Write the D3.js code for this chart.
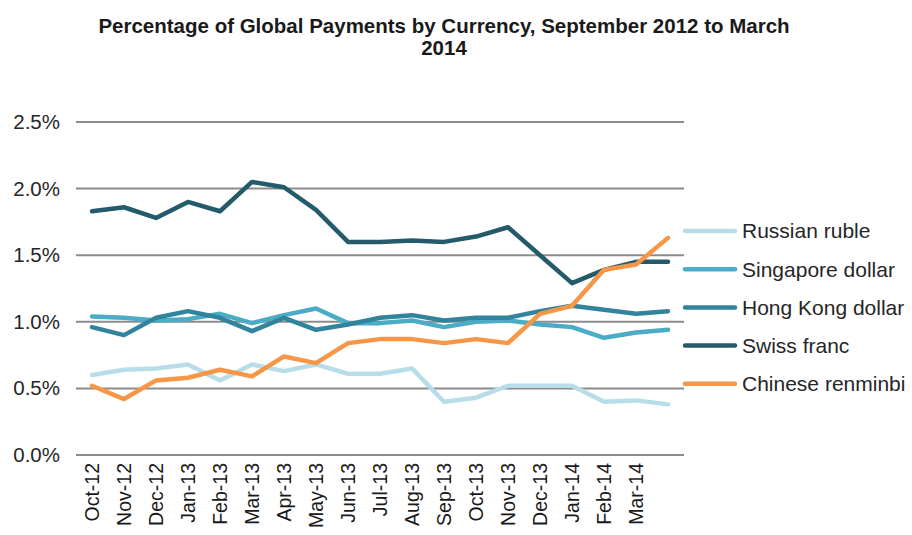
<!DOCTYPE html>
<html>
<head>
<meta charset="utf-8">
<script src="https://cdn.jsdelivr.net/npm/d3@7"></script>
<style>
body{margin:0;background:#fff;font-family:"Liberation Sans",Arial,sans-serif;}
.grid line{stroke:#8c8c8c;stroke-width:2;}
</style>
</head>
<body>
<script>
var months = ["Oct-12","Nov-12","Dec-12","Jan-13","Feb-13","Mar-13","Apr-13","May-13","Jun-13","Jul-13",
              "Aug-13","Sep-13","Oct-13","Nov-13","Dec-13","Jan-14","Feb-14","Mar-14",""];
var yTicks = [0,0.5,1.0,1.5,2.0,2.5];

var russianRuble = [0.60,0.64,0.65,0.68,0.56,0.68,0.63,0.68,0.61,0.61,0.65,0.40,0.43,0.52,0.52,0.52,0.40,0.41,0.38];
var singaporeDollar = [1.04,1.03,1.01,1.02,1.06,0.99,1.05,1.10,0.99,0.99,1.01,0.96,1.00,1.01,0.98,0.96,0.88,0.92,0.94];
var hongKongDollar = [0.96,0.90,1.03,1.08,1.03,0.93,1.03,0.94,0.98,1.03,1.05,1.01,1.03,1.03,1.08,1.12,1.09,1.06,1.08];
var swissFranc = [1.83,1.86,1.78,1.90,1.83,2.05,2.01,1.84,1.60,1.60,1.61,1.60,1.64,1.71,1.50,1.29,1.39,1.45,1.45];
var chineseRenminbi = [0.52,0.42,0.56,0.58,0.64,0.59,0.74,0.69,0.84,0.87,0.87,0.84,0.87,0.84,1.06,1.12,1.39,1.43,1.63];

var seriesNames = ["Russian ruble","Singapore dollar","Hong Kong dollar","Swiss franc","Chinese renminbi"];
var seriesColors = ["#b7dee8","#4bacc6","#31849b","#235b6a","#f79646"];
var seriesValues = [russianRuble,singaporeDollar,hongKongDollar,swissFranc,chineseRenminbi];

var width = 912, height = 535;
var svg = d3.select("body").append("svg").attr("width",width).attr("height",height);

var x = d3.scaleBand().domain(d3.range(months.length)).range([76,684]);
var y = d3.scaleLinear().domain([0,2.5]).range([455,122]);

// title
var title = svg.append("text")
    .attr("text-anchor","middle")
    .attr("font-size","20.5px")
    .attr("font-weight","bold")
    .attr("fill","#1a1a1a");
title.append("tspan").attr("x",444).attr("y",33).text("Percentage of Global Payments by Currency, September 2012 to March");
title.append("tspan").attr("x",444).attr("y",55).text("2014");

// gridlines
svg.append("g").attr("class","grid")
    .selectAll("line")
    .data(yTicks)
    .enter().append("line")
        .attr("x1",76).attr("x2",684)
        .attr("y1",function(d){return y(d);})
        .attr("y2",function(d){return y(d);});

// y labels
var yAxis = d3.axisLeft(y).tickValues(yTicks).tickSize(0).tickPadding(0)
    .tickFormat(function(d){return d.toFixed(1)+"%";});
var yg = svg.append("g").attr("transform","translate(60,0)").call(yAxis);
yg.select(".domain").remove();
yg.selectAll("text").attr("font-size","20.5px").attr("font-family","Liberation Sans, Arial, sans-serif").attr("fill","#262626");

// x labels
var xAxis = d3.axisBottom(x).tickSize(0).tickPadding(0).tickFormat(function(i){return months[i];});
var xg = svg.append("g").attr("transform","translate(0,463)").call(xAxis);
xg.select(".domain").remove();
xg.selectAll("text")
    .attr("font-size","19.5px")
    .attr("font-family","Liberation Sans, Arial, sans-serif")
    .attr("fill","#1a1a1a")
    .attr("text-anchor","end")
    .attr("transform","rotate(-90)")
    .attr("x",0).attr("y",0).attr("dy","0.35em");

// lines
var line = d3.line()
    .x(function(d,i){return x(i)+x.bandwidth()/2;})
    .y(function(d){return y(d);});

svg.selectAll("path.series")
    .data(seriesValues)
    .enter().append("path")
        .attr("class","series")
        .attr("d",line)
        .attr("fill","none")
        .attr("stroke",function(d,i){return seriesColors[i];})
        .attr("stroke-width",4.5)
        .attr("stroke-linejoin","round")
        .attr("stroke-linecap","round");

// legend
var legend = svg.selectAll("g.legend")
    .data(seriesNames)
    .enter().append("g")
        .attr("class","legend")
        .attr("transform",function(d,i){return "translate(0,"+(231+i*38.2)+")";});
legend.append("line")
    .attr("x1",685).attr("x2",735).attr("y1",0).attr("y2",0)
    .attr("stroke",function(d,i){return seriesColors[i];})
    .attr("stroke-width",4.5)
    .attr("stroke-linecap","round");
legend.append("text")
    .attr("x",742).attr("y",0).attr("dy","0.35em")
    .attr("font-size","21px")
    .attr("fill","#262626")
    .text(function(d){return d;});
</script>
</body>
</html>
